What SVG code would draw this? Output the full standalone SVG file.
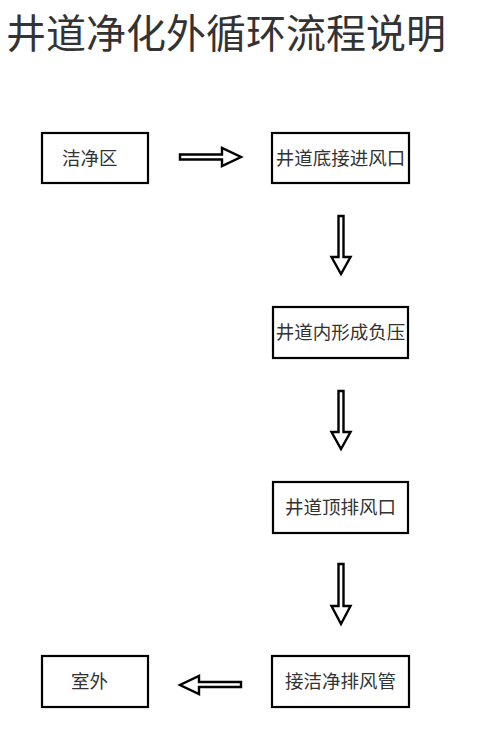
<svg xmlns="http://www.w3.org/2000/svg" width="500" height="742" viewBox="0 0 500 742">
<style>
.box{fill:#fff;stroke:#000;stroke-width:2.2}
.arr{fill:#fff;stroke:#000;stroke-width:2.4;stroke-linejoin:miter}
.t{font-family:"Noto Sans CJK SC","Noto Sans",sans-serif;font-size:18.5px;fill:#333}
.title{font-family:"Noto Sans CJK SC","Noto Sans",sans-serif;font-size:40px;fill:#333}
</style>
<rect width="500" height="742" fill="#fff"/>
<text class="title" x="6" y="48">井道净化外循环流程说明</text>
<g id="n1"><rect class="box" x="42" y="133" width="106" height="50"/><text class="t" x="62" y="164.5">洁净区</text></g>
<g id="n2"><rect class="box" x="272" y="133" width="137" height="50"/><text class="t" x="340.5" y="164.5" text-anchor="middle">井道底接进风口</text></g>
<g id="n3"><rect class="box" x="273" y="307" width="135" height="51"/><text class="t" x="340.5" y="339" text-anchor="middle">井道内形成负压</text></g>
<g id="n4"><rect class="box" x="273" y="482" width="135" height="51"/><text class="t" x="340.5" y="514" text-anchor="middle">井道顶排风口</text></g>
<g id="n5"><rect class="box" x="272" y="656" width="137" height="51"/><text class="t" x="340.5" y="688" text-anchor="middle">接洁净排风管</text></g>
<g id="n6"><rect class="box" x="42" y="656" width="106" height="51"/><text class="t" x="71" y="688">室外</text></g>
<g id="connectors">
<path class="arr" d="M180,154.5 L222,154.5 L222,148 L241,157 L222,166 L222,159.5 L180,159.5 Z"/>
<path class="arr" d="M338.5,216 L343.5,216 L343.5,257 L350.5,257 L341,274 L331.5,257 L338.5,257 Z"/>
<path class="arr" d="M338.5,391 L343.5,391 L343.5,432 L350.5,432 L341,449 L331.5,432 L338.5,432 Z"/>
<path class="arr" d="M338.5,564 L343.5,564 L343.5,606 L350.5,606 L341,624 L331.5,606 L338.5,606 Z"/>
<path class="arr" d="M241,682 L199,682 L199,676 L180,685 L199,694 L199,687 L241,687 Z"/>
</g>
</svg>
